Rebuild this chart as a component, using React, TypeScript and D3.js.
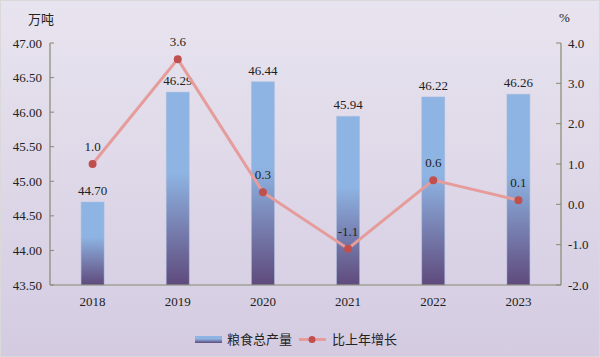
import React from "react";
import * as d3 from "d3";

const years = ["2018", "2019", "2020", "2021", "2022", "2023"];
const output = [44.7, 46.29, 46.44, 45.94, 46.22, 46.26];
const growth = [1.0, 3.6, 0.3, -1.1, 0.6, 0.1];
const leftTicks = [43.5, 44.0, 44.5, 45.0, 45.5, 46.0, 46.5, 47.0];
const rightTicks = [-2, -1, 0, 1, 2, 3, 4];

const W = 600, H = 357;
const M = { left: 50, right: 39, top: 43, bottom: 72 };

export default function App() {
  const x = d3.scaleBand().domain(years).range([M.left, W - M.right]).paddingInner(0.73).paddingOuter(0.365);
  const yL = d3.scaleLinear().domain([43.5, 47]).range([H - M.bottom, M.top]);
  const yR = d3.scaleLinear().domain([-2, 4]).range([H - M.bottom, M.top]);
  const cx = (d: string) => (x(d) as number) + x.bandwidth() / 2;
  const line = d3.line<number>().x((_, i) => cx(years[i])).y((d) => yR(d));
  const serif = "'Liberation Serif', 'Times New Roman', serif";
  const cjk = "'Noto Sans CJK SC', sans-serif";
  const axisColor = "#868a70";
  const base = H - M.bottom;
  return (
    <svg width={W} height={H} style={{ position: "absolute", left: 0, top: 0 }}>
      <defs>
        <linearGradient id="bg" x1="0" y1="0" x2="0" y2="1">
          <stop offset="0%" stopColor="#e8e4ef" />
          <stop offset="100%" stopColor="#d4cbe1" />
        </linearGradient>
        <linearGradient id="bar" x1="0" y1="0" x2="0" y2="1">
          <stop offset="0%" stopColor="#8eb4e3" />
          <stop offset="42%" stopColor="#8eb4e3" />
          <stop offset="100%" stopColor="#5f4a7c" />
        </linearGradient>
      </defs>
      <rect x={0.5} y={0.5} width={W - 1} height={H - 1} fill="url(#bg)" stroke="#d9d9d9" />
      <text x={28} y={24} fontFamily={cjk} fontSize={13} fill="#222">万吨</text>
      <text x={559} y={22} fontFamily={serif} fontSize={13} fill="#222">%</text>
      {years.map((yr, i) => (
        <rect key={yr} x={x(yr)} y={yL(output[i])} width={x.bandwidth()} height={base - yL(output[i])} fill="url(#bar)" stroke="#a9bedf" strokeOpacity={0.6} strokeWidth={0.8} />
      ))}
      {/* left axis */}
      <line x1={M.left} x2={M.left} y1={M.top} y2={base} stroke={axisColor} strokeWidth={1.2} />
      {leftTicks.map((t) => (
        <g key={t}>
          <line x1={M.left} x2={M.left + 4} y1={yL(t)} y2={yL(t)} stroke={axisColor} />
          <text x={42} y={yL(t) + 4.5} textAnchor="end" fontFamily={serif} fontSize={13} fill="#222">{t.toFixed(2)}</text>
        </g>
      ))}
      {/* right axis */}
      <line x1={W - M.right} x2={W - M.right} y1={M.top} y2={base} stroke={axisColor} strokeWidth={1.2} />
      {rightTicks.map((t) => (
        <g key={t}>
          <line x1={W - M.right - 5} x2={W - M.right} y1={yR(t)} y2={yR(t)} stroke={axisColor} />
          <text x={568} y={yR(t) + 4.5} fontFamily={serif} fontSize={13} fill="#222">{t.toFixed(1)}</text>
        </g>
      ))}
      {/* bottom axis */}
      <line x1={M.left} x2={W - M.right} y1={base} y2={base} stroke={axisColor} strokeWidth={1.2} />
      {years.map((yr) => (
        <text key={yr} x={cx(yr)} y={base + 21} textAnchor="middle" fontFamily={serif} fontSize={13} fill="#222">{yr}</text>
      ))}
      {years.map((yr, i) => (
        <text key={yr} x={cx(yr)} y={yL(output[i]) - 7} textAnchor="middle" fontFamily={serif} fontSize={13} fill="#222">{output[i].toFixed(2)}</text>
      ))}
      <path d={line(growth) || ""} fill="none" stroke="#e59c9b" strokeWidth={3} />
      {growth.map((g, i) => (
        <circle key={i} cx={cx(years[i])} cy={yR(g)} r={4} fill="#c0504d" />
      ))}
      {growth.map((g, i) => (
        <text key={i} x={cx(years[i])} y={yR(g) - 13} textAnchor="middle" fontFamily={serif} fontSize={13} fill="#222">{g.toFixed(1)}</text>
      ))}
      {/* legend */}
      <rect x={195} y={336} width={27} height={7} fill="url(#bar)" />
      <text x={227} y={344} fontFamily={cjk} fontSize={13} fill="#222">粮食总产量</text>
      <line x1={299} x2={326} y1={339.5} y2={339.5} stroke="#e59c9b" strokeWidth={3} />
      <circle cx={312} cy={339.5} r={3.5} fill="#c0504d" />
      <text x={332} y={344} fontFamily={cjk} fontSize={13} fill="#222">比上年增长</text>
    </svg>
  );
}
